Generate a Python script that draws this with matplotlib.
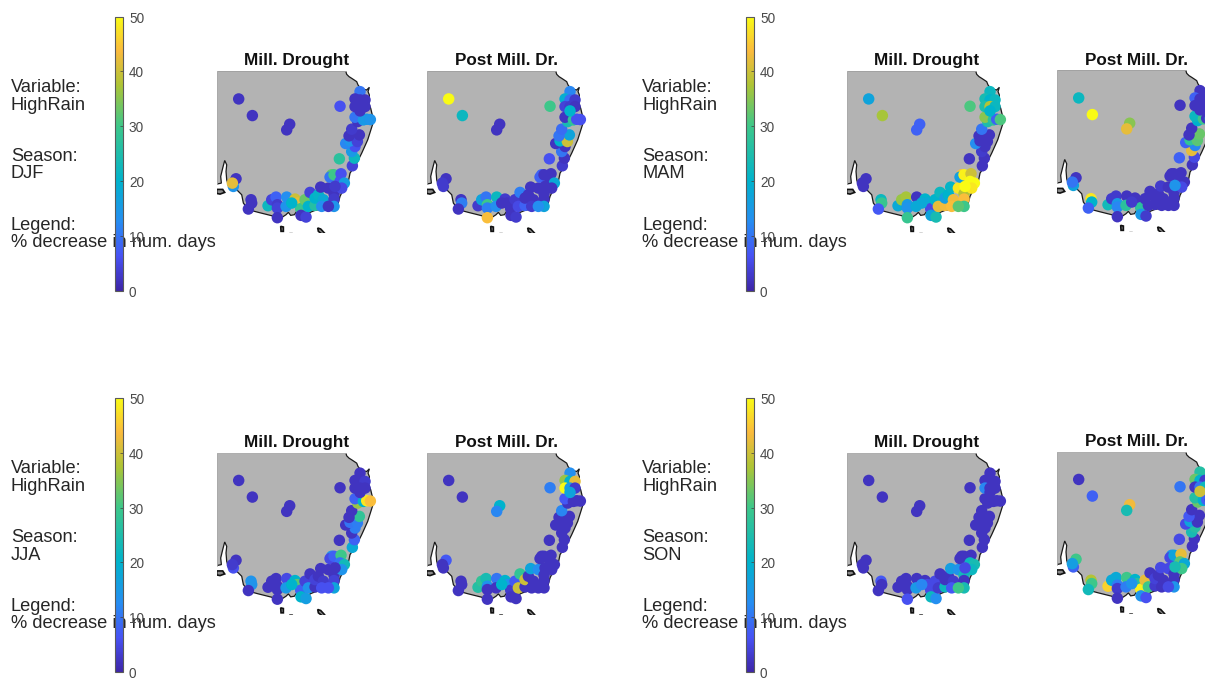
import matplotlib
matplotlib.use('Agg')
import matplotlib.pyplot as plt
from matplotlib.colors import LinearSegmentedColormap, Normalize
from matplotlib.cm import ScalarMappable
from matplotlib.patches import Polygon
from matplotlib.transforms import ScaledTranslation

plt.rcParams['font.family'] = ['Liberation Sans', 'DejaVu Sans']

W = 1205
H = 678

seasons = ['DJF', 'MAM', 'JJA', 'SON']
titles = ['Mill. Drought', 'Post Mill. Dr.']
cbar_ticks = [0, 10, 20, 30, 40, 50]

# station positions, in map units (not lon/lat)
station_x = [116, 157, 269, 260, 420, 418, 108, 100, 97,
             153, 155, 145, 204, 215, 228, 232, 232, 232,
             260, 258, 285, 292, 302, 275, 315, 303, 318, 330, 325, 345, 345, 355, 362, 370, 365, 385, 402, 402, 402, 385,
             395, 390, 402, 423, 420, 433, 425, 405,
             457, 463, 455, 465, 437, 450, 472, 478, 447, 455, 473, 465, 490, 500, 511,
             480, 465, 480, 495, 465, 480, 495, 480]
station_y = [177, 227, 253, 270, 199, 357, 417, 440, 430,
             480, 490, 508, 498, 480, 472, 495, 505, 534,
             472, 500, 478, 490, 507, 490, 480, 527, 532, 458, 500, 497, 475, 465, 442, 480, 500, 445, 462, 478, 500, 500,
             405, 412, 405, 402, 425, 430, 445, 440,
             378, 355, 335, 320, 311, 303, 305, 285, 288, 268, 245, 232, 240, 238, 239,
             155, 177, 180, 180, 200, 200, 200, 213]

# % decrease, one list per panel, same order as the stations
djf_mill = [2, 2, 2, 2, 6, 27, 2, 14, 42,
            2, 2, 2, 22, 4, 8, 3, 4, 2,
            13, 14, 40, 42, 29, 20, 33, 2, 4, 4, 20, 26, 20, 21, 2, 18, 13, 2, 2, 3, 14, 2,
            33, 10, 30, 6, 6, 16, 5, 3,
            4, 22, 15, 6, 12, 14, 4, 2, 2, 3, 2, 10, 15, 15, 14,
            10, 2, 2, 2, 2, 2, 2, 2]
djf_post = [50, 22, 2, 2, 30, 6, 2, 3, 3,
            2, 11, 2, 3, 17, 10, 30, 11, 44,
            22, 13, 3, 2, 2, 2, 3, 2, 3, 11, 5, 8, 2, 2, 2, 2, 3, 2, 2, 2, 17, 13,
            8, 8, 2, 2, 2, 18, 2, 2,
            3, 2, 10, 2, 2, 20, 40, 17, 10, 9, 24, 2, 28, 6, 6,
            12, 19, 9, 3, 4, 3, 2, 20]
mam_mill = [17, 37, 8, 8, 31, 2, 2, 2, 2,
            22, 29, 7, 18, 36, 37, 15, 14, 29,
            2, 18, 20, 18, 5, 18, 20, 17, 24, 22, 42, 43, 16, 20, 21, 43, 44, 48, 38, 44, 30, 32,
            44, 16, 49, 40, 50, 50, 48, 50,
            2, 2, 3, 2, 13, 2, 2, 2, 2, 10, 25, 35, 27, 8, 31,
            22, 24, 20, 22, 25, 38, 22, 20]
mam_post = [22, 50, 35, 42, 2, 8, 2, 17, 10,
            48, 20, 8, 23, 3, 3, 15, 12, 2,
            2, 27, 2, 2, 27, 3, 2, 15, 3, 2, 2, 2, 2, 2, 3, 2, 2, 2, 2, 2, 2, 2,
            2, 2, 2, 2, 2, 2, 5, 14,
            2, 5, 42, 12, 8, 28, 32, 33, 2, 2, 20, 22, 30, 2, 22,
            2, 8, 2, 2, 2, 2, 2, 2]
jja_mill = [2, 2, 2, 2, 2, 2, 2, 6, 3,
            14, 14, 2, 2, 2, 2, 2, 2, 2,
            5, 15, 20, 32, 8, 20, 4, 20, 16, 2, 14, 2, 4, 2, 2, 3, 6, 2, 2, 4, 17, 6,
            14, 5, 8, 30, 10, 23, 14, 2,
            18, 8, 2, 11, 2, 10, 11, 28, 2, 2, 36, 8, 20, 48, 44,
            2, 2, 2, 3, 2, 2, 2, 2]
jja_post = [2, 2, 20, 12, 11, 2, 7, 2, 2,
            2, 2, 2, 26, 28, 24, 14, 2, 2,
            10, 2, 20, 14, 3, 20, 7, 2, 2, 28, 40, 2, 40, 2, 17, 2, 2, 13, 2, 2, 2, 2,
            2, 2, 2, 2, 2, 2, 2, 2,
            2, 2, 2, 2, 2, 2, 2, 2, 2, 12, 2, 7, 2, 2, 2,
            13, 36, 20, 42, 50, 15, 3, 17]
son_mill = [2, 2, 2, 2, 2, 2, 2, 2, 2,
            7, 2, 2, 2, 2, 2, 2, 2, 6,
            2, 15, 2, 5, 5, 12, 5, 22, 13, 2, 3, 22, 2, 2, 16, 3, 7, 14, 23, 2, 24, 30,
            2, 2, 2, 2, 22, 24, 22, 5,
            2, 2, 2, 2, 2, 2, 2, 2, 2, 2, 2, 2, 2, 2, 2,
            2, 2, 2, 2, 12, 2, 2, 2]
son_post = [2, 8, 43, 24, 10, 5, 30, 8, 16,
            38, 30, 23, 46, 18, 18, 11, 3, 2,
            30, 11, 20, 26, 49, 14, 42, 14, 6, 2, 30, 3, 4, 2, 5, 2, 2, 5, 2, 2, 14, 5,
            14, 5, 17, 42, 32, 18, 30, 24,
            2, 2, 24, 26, 5, 17, 2, 2, 7, 2, 33, 26, 20, 8, 2,
            26, 33, 20, 3, 2, 10, 22, 40]

panel_values = [[djf_mill, djf_post], [mam_mill, mam_post], [jja_mill, jja_post], [son_mill, son_post]]

# coast outline
land_x = [50, 437, 440, 447, 455, 470, 474, 480, 490, 500, 508, 504, 508, 506, 512, 516, 522, 515, 503, 485, 470, 450, 445, 432, 420, 412, 380, 345, 330, 320,
          305, 290, 283, 272, 265, 258, 235, 215, 175, 145, 130, 125, 105, 85, 80, 78, 80, 74, 68, 62, 64, 50]
land_y = [93, 93, 103, 110, 115, 125, 135, 143, 148, 150, 142, 155, 165, 190, 205, 222, 240, 262, 300, 340, 370, 400, 425, 445, 470, 500, 505, 512, 518, 540,
          535, 515, 525, 527, 518, 525, 540, 528, 518, 510, 490, 465, 445, 437, 420, 395, 375, 362, 385, 410, 430, 433]
kangaroo_x = [50, 68, 74, 60, 50]
kangaroo_y = [449, 449, 458, 463, 461]
island1_x = [242, 250, 250, 243]
island1_y = [560, 562, 575, 575]
island2_x = [353, 362, 375, 368, 355]
island2_y = [565, 568, 582, 585, 575]
island3_x = [268, 278, 275]
island3_y = [582, 582, 590]

parula = LinearSegmentedColormap.from_list('parula', [
    (0.0, (0.2422, 0.1504, 0.6603)),
    (0.125, (0.2810, 0.3228, 0.9579)),
    (0.25, (0.1500, 0.5500, 0.9500)),
    (0.4, (0.0000, 0.7000, 0.8000)),
    (0.6, (0.2400, 0.7800, 0.5400)),
    (0.75, (0.6800, 0.7700, 0.2100)),
    (0.875, (0.9800, 0.7300, 0.2400)),
    (1.0, (0.9769, 0.9839, 0.0805))])
norm = Normalize(0, 50)


def px_axes(left, top, width, height, **kw):
    return fig.add_axes([left / W, 1 - (top + height) / H, width / W, height / H], **kw)


fig = plt.figure(figsize=(W / 100, H / 100), dpi=100)

col_text = [11, 642]
col_bar = [115, 746]
col_map = [[216.7, 426.7], [846.7, 1056.7]]
row_off = [0, 381.5]

for i in range(4):
    row = i // 2
    col = i % 2
    dy = row_off[row]

    # labels on the left, the colorbar is drawn over them
    for label, base in [('Variable:', 92), ('HighRain', 110), ('Season:', 161), (seasons[i], 178.5),
                        ('Legend:', 230), ('% decrease in num. days', 247)]:
        fig.text(col_text[col] / W, 1 - (base + dy - 0.5 * row) / H, label, fontsize=13.15, color='#262626', va='baseline')

    cax = px_axes(col_bar[col], 16.5 + dy, 7.7, 274, zorder=5)
    cb = fig.colorbar(ScalarMappable(norm=norm, cmap=parula), cax=cax, ticks=cbar_ticks)
    cb.outline.set_edgecolor('#5a5a5a')
    cb.outline.set_linewidth(0.8)
    cax.tick_params(direction='in', length=2, width=0.5, color='#404040', labelcolor='#4a4a4a', labelsize=9.8, pad=4.5)
    for lab in cax.get_yticklabels():
        lab.set_transform(lab.get_transform() + ScaledTranslation(0, -0.6 / 100, fig.dpi_scale_trans))

    for j in range(2):
        top = 71 + dy
        if j == 1 and col == 1:
            top = top - 1
        ax = px_axes(col_map[col][j], top, 160, 162)
        ax.set_xlim(50, 530)
        ax.set_ylim(580, 93)
        ax.axis('off')
        ax.add_patch(Polygon(list(zip(land_x, land_y)), closed=True, facecolor='#b3b3b3', edgecolor='#1a1a1a', linewidth=0.9))
        ax.plot([50, 437], [93, 93], color='#b3b3b3', linewidth=1.2)
        ax.plot([50, 50], [93, 433], color='#b3b3b3', linewidth=1.2)
        for ix, iy in [(kangaroo_x, kangaroo_y), (island1_x, island1_y), (island2_x, island2_y), (island3_x, island3_y)]:
            ax.add_patch(Polygon(list(zip(ix, iy)), closed=True, facecolor='#8a8a8a', edgecolor='#111111', linewidth=1.2))
        ax.scatter(station_x, station_y, c=panel_values[i][j], cmap=parula, norm=norm, s=68, linewidths=0, zorder=3)
        # the MAM post panel sits a pixel higher but its title does not
        title_y = 79 if (i == 1 and j == 1) else 76
        ax.text(290, title_y, titles[j], fontsize=12.3, fontweight='bold', ha='center', va='baseline', color='#111111', clip_on=False)

fig.savefig('out.png', dpi=100)
